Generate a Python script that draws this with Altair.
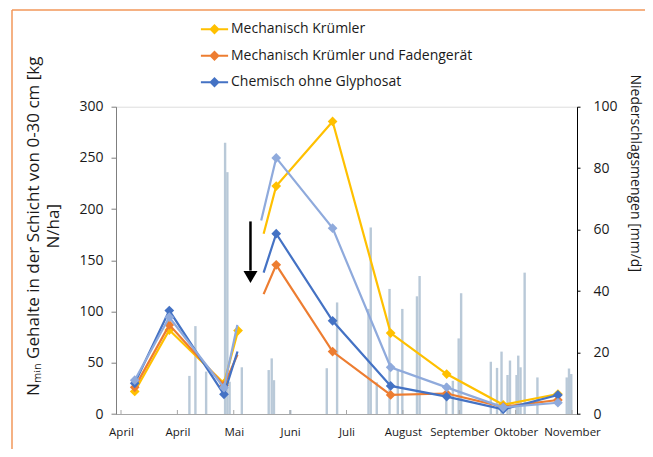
import altair as alt
import pandas as pd

# ---------------- data ----------------
month_labels = ["April", "April", "Mai", "Juni", "Juli", "August", "September", "Oktober", "November"]
tick_days = [0, 30, 60, 90, 120, 150, 180, 210, 240]

series_names = ["Mechanisch Krümler", "Mechanisch Krümler und Fadengerät",
                "Chemisch ohne Glyphosat", "Chemisch (hell)"]
series_colors = ["#FFC000", "#ED7D31", "#4472C4", "#8FAADC"]

# measurement days (days after axis start)
meas_days = [7.3, 25.7, 54.8, 82.6, 112.6, 143.5, 173.3, 203.4, 232.5]
nmin_yellow = [22, 82, 30, 222.5, 285.6, 79, 39, 9, 19.5]
nmin_orange = [26, 87, 28, 145.6, 61, 18.6, 20, 7, 13.7]
nmin_blue = [30, 101, 19.2, 176, 91, 27.4, 17, 4.6, 18.6]
nmin_light = [33, 94.5, 25.7, 250, 181.4, 45.6, 26, 6.5, 11]
series_values = [nmin_yellow, nmin_orange, nmin_blue, nmin_light]

# line ends at the blank gap
gap_end_day = [62.3, 62.0, 62.0, 61.9]
gap_end_val = [81.4, 58, 61, 87]
gap_end_marker = [True, False, False, False]
gap_start_day = [75.9, 75.9, 75.9, 74.6]
gap_start_val = [176, 117, 138, 189]

# precipitation bars (mm/d)
rain_days = [36.4, 39.6, 45.3, 55.4, 56.6, 57.8, 64.3, 78.6, 80.2, 81.4, 90.1,
             109.5, 115.0, 131.7, 132.9, 136.1, 142.9, 147.3, 149.7, 157.5, 158.9,
             173.1, 176.6, 179.7, 181.0, 196.8, 200.1, 202.5, 205.7, 207.0, 210.5,
             211.4, 212.6, 214.8, 221.6, 237.2, 238.4, 239.6]
rain_mm = [12.4, 28.6, 13.8, 88.3, 78.7, 10.5, 15.2, 14.3, 18.1, 11, 1.3,
           14.9, 36.3, 34.2, 60.7, 10.3, 40.7, 14.3, 34.2, 38.3, 44.9,
           10, 10.8, 24.6, 39.3, 17, 15, 20.3, 12.7, 17.4, 12.7,
           19, 15.2, 46, 11.9, 11.9, 14.8, 13]

# arrow annotation (left-axis units)
arrow_day = [68.9]
arrow_top = [188]
arrow_base = [140]
arrow_head = [133.7]

# ---------------- tables ----------------
rows = []
for i, name in enumerate(series_names):
    vals = series_values[i]
    for k in range(3):
        rows.append(dict(series=name, seg="a", day=meas_days[k], value=vals[k], marker=True))
    rows.append(dict(series=name, seg="a", day=gap_end_day[i], value=gap_end_val[i], marker=gap_end_marker[i]))
    rows.append(dict(series=name, seg="b", day=gap_start_day[i], value=gap_start_val[i], marker=False))
    for k in range(3, len(meas_days)):
        rows.append(dict(series=name, seg="b", day=meas_days[k], value=vals[k], marker=True))
lines_df = pd.DataFrame(rows)
rain_df = pd.DataFrame({"day": rain_days, "mm": rain_mm})
ticks_df = pd.DataFrame({"day": tick_days})
arrow_df = pd.DataFrame({"day": arrow_day, "top": arrow_top, "base": arrow_base, "head": arrow_head})

FONT = "Open Sans"
W, H = 461, 307.3

label_expr = "[" + ",".join("'%s'" % m for m in month_labels) + "][round(datum.value/30)]"
x_axis = alt.Axis(values=tick_days, labelExpr=label_expr, tickSize=0, domainColor="#a6a6a6",
                  labelFont=FONT, labelFontSize=11.5, labelColor="#1a1a1a", labelPadding=12,
                  labelFlush=False, labelOverlap=False, grid=False, title=None)
x_scale = alt.Scale(domain=[0, 240], nice=False, zero=False)


def X():
    return alt.X("day:Q", scale=x_scale, axis=x_axis, title=None)


y_axis = alt.Axis(values=[0, 50, 100, 150, 200, 250, 300], tickSize=5, tickColor="#7f7f7f",
                  domainColor="#7f7f7f", labelFont=FONT, labelFontSize=14, labelColor="#1a1a1a",
                  labelPadding=8, grid=False,
                  title=["Nₘᵢₙ Gehalte in der Schicht von 0-30 cm [kg", "N/ha]"],
                  titleFont=FONT, titleFontSize=17, titleFontWeight="normal", titleColor="#1a1a1a",
                  titleAngle=-90, titleAlign="center", titleBaseline="middle",
                  titleX=-83, titleY=119, titleLineHeight=20)
y_scale = alt.Scale(domain=[0, 300], nice=False)

color_scale = alt.Scale(domain=series_names, range=series_colors)
PATH = ("M-1.6,0H1.6 M0,-0.45L0.45,0L0,0.45L-0.45,0Z "
        "M0,-0.27L0.27,0L0,0.27L-0.27,0Z M0,-0.1L0.1,0L0,0.1L-0.1,0Z")
legend = alt.Legend(orient="none", legendX=89, legendY=-87, title=None, values=series_names[:3],
                    symbolType=PATH, symbolSize=289, symbolStrokeWidth=2,
                    labelFont=FONT, labelFontSize=14, labelColor="#1a1a1a", labelOffset=7,
                    labelLimit=0, rowPadding=8.5, padding=0, direction="vertical")

layers = []
for idx, name in enumerate(series_names):
    sub = alt.Chart(lines_df).transform_filter(alt.datum.series == name)
    layers.append(sub.mark_line(strokeWidth=2.2).encode(
        x=X(), y=alt.Y("value:Q", scale=y_scale, axis=y_axis),
        color=alt.Color("series:N", scale=color_scale, legend=legend if idx == 0 else None),
        detail="seg:N"))
    layers.append(sub.transform_filter(alt.datum.marker == True).mark_point(
        filled=True, shape="diamond", size=95, opacity=1).encode(
        x=X(), y=alt.Y("value:Q", scale=y_scale, axis=y_axis),
        color=alt.Color("series:N", scale=color_scale, legend=None)))

arrow_shaft = alt.Chart(arrow_df).mark_rule(color="black", strokeWidth=2.5).encode(
    x=X(), y=alt.Y("top:Q", scale=y_scale, axis=y_axis), y2="base:Q")
arrow_tip = alt.Chart(arrow_df).mark_point(shape="triangle-down", filled=True, color="black",
                                           size=196, opacity=1).encode(
    x=X(), y=alt.Y("head:Q", scale=y_scale, axis=y_axis))

x_ticks = alt.Chart(ticks_df).mark_rule(color="#a6a6a6", strokeWidth=1).encode(
    x=X(), y=alt.value(H), y2=alt.value(H - 4))

frame_color = "#F2975A"
frame_left = alt.Chart(ticks_df.head(1)).mark_rule(color=frame_color, strokeWidth=1.5).encode(
    x=alt.value(-104), y=alt.value(-96.7), y2=alt.value(345))
frame_top = alt.Chart(ticks_df.head(1)).mark_rule(color=frame_color, strokeWidth=1.5).encode(
    x=alt.value(-104), x2=alt.value(540), y=alt.value(-96.7))

main = alt.layer(x_ticks, *layers, arrow_shaft, arrow_tip, frame_left, frame_top)

bars = alt.Chart(rain_df).mark_bar(size=2.4, color="#b9c9d8").encode(
    x=X(),
    y=alt.Y("mm:Q", scale=alt.Scale(domain=[0, 100], nice=False),
            axis=alt.Axis(orient="right", values=[0, 20, 40, 60, 80, 100], tickSize=3,
                          tickColor="black", domainColor="black", labelFont=FONT,
                          labelFontSize=14, labelColor="#1a1a1a", labelPadding=13, grid=False,
                          title="Niederschlagsmengen [mm/d]", titleFont=FONT, titleFontSize=14,
                          titleFontWeight="normal", titleColor="#1a1a1a", titleAngle=90,
                          titleAlign="center", titleBaseline="middle", titleX=57, titleY=66)))

chart = alt.layer(bars, main).resolve_scale(y="independent").properties(
    width=W, height=H, autosize="none",
    padding={"left": 108, "top": 98.7, "right": 68, "bottom": 35},
).configure_view(stroke=None).configure(background="white")

chart.save("out.html", embed_options={"renderer": "svg", "actions": False})
